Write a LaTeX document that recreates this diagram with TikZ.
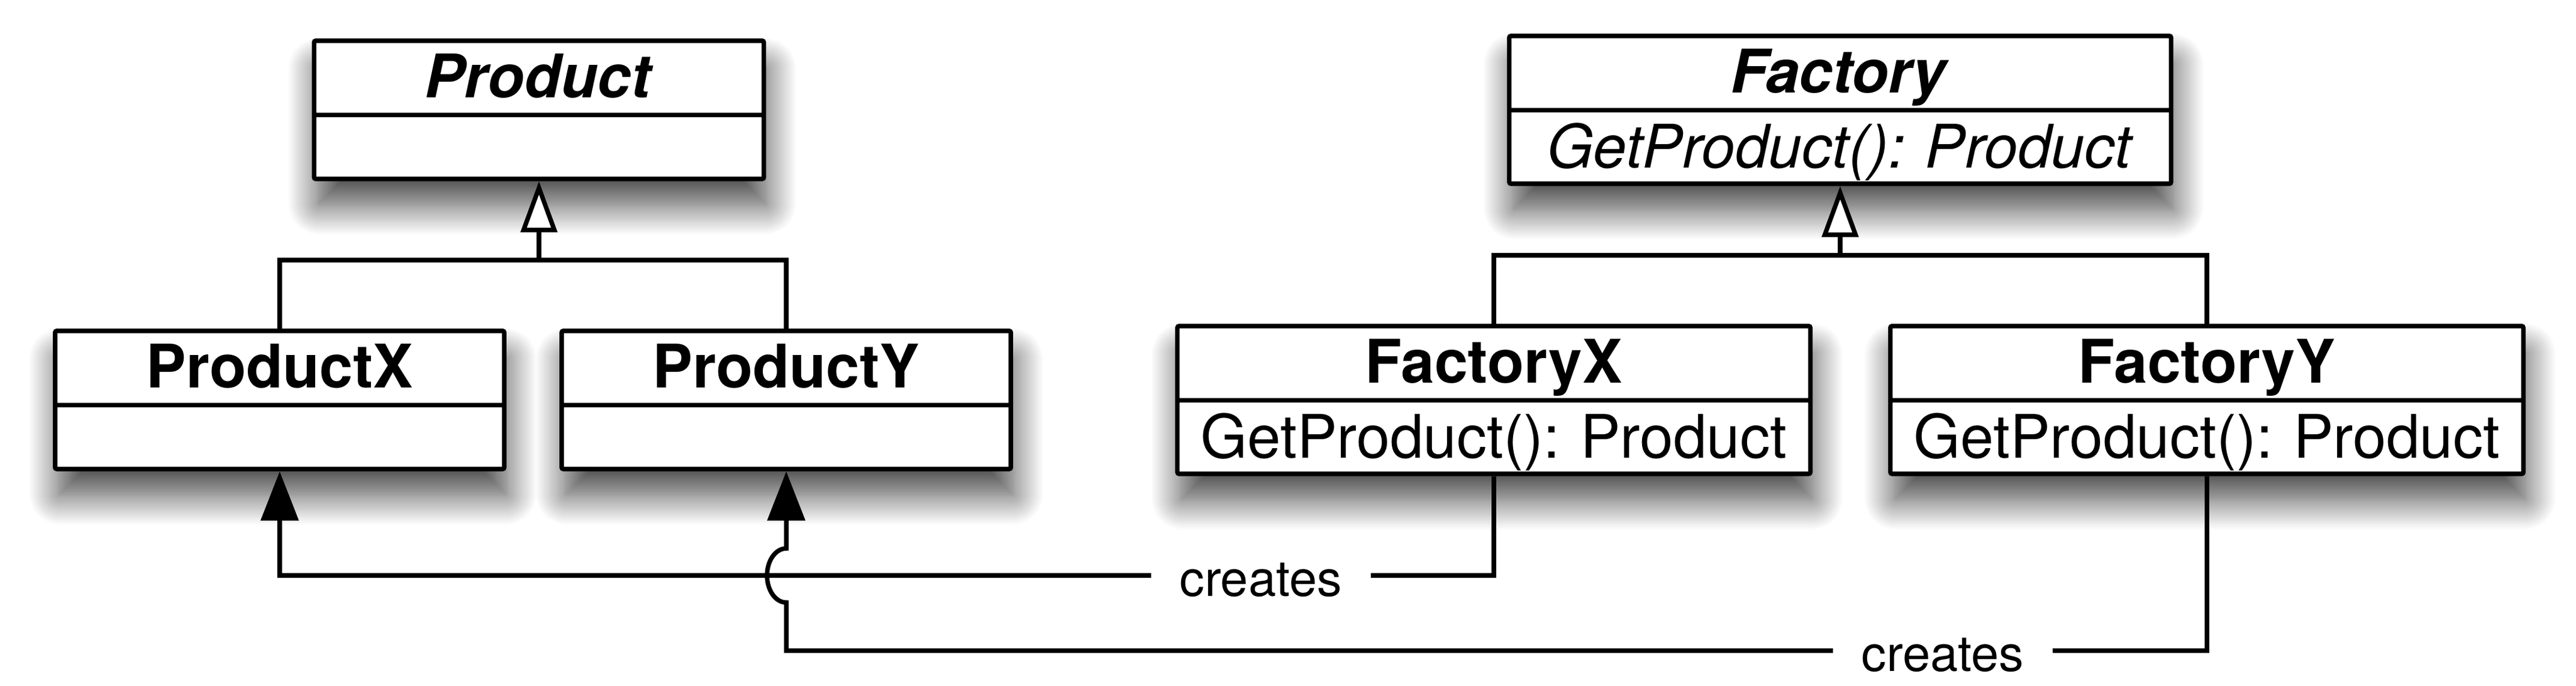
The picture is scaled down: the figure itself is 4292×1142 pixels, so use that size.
\documentclass[tikz,border=0pt]{standalone}
\usepackage{fontspec}
\setmainfont{TeX Gyre Heros}
\usetikzlibrary{arrows.meta,shapes.multipart,shadows.blur}
\frenchspacing

\newcommand{\namestrut}{\rule[-0.25cm]{0pt}{1.16cm}}
\newcommand{\opstrut}{\rule[-0.23cm]{0pt}{1.15cm}}
\newcommand{\emptystrut}{\rule{0pt}{0.99cm}}

\begin{document}
\begin{tikzpicture}[x=0.01cm,y=-0.01cm,line width=0.075cm,
		font=\fontsize{28.45}{34}\selectfont]
		\tikzstyle{umlclass}=[rectangle split,rectangle split parts=2,draw=black,fill=white,
			inner xsep=0pt,inner ysep=0pt,align=center,rounded corners=0.03cm,
			blur shadow={shadow xshift=1.5pt,shadow yshift=-12.5pt,shadow blur radius=14pt,
				shadow opacity=72,shadow blur steps=24}]
		\tikzstyle{gen}=[-{Triangle[length=0.85cm,width=0.6cm,fill=white]}]
		\tikzstyle{assoc}=[-{Triangle[length=0.82cm,width=0.62cm]}]
		\tikzstyle{lbl}=[fill=white,inner xsep=0.48cm,inner ysep=0.02cm,yshift=-0.07cm,
			font=\fontsize{23.6}{28}\selectfont]
		
		\useasboundingbox (0,0) rectangle (4292,1142);
		
		\node[umlclass,text width=7.49cm,anchor=north] (p) at (898,64)
			{\textbf{\textit{Product}}\namestrut \nodepart{two}\emptystrut};
		\node[umlclass,text width=7.48cm,anchor=north] (px) at (466,547)
			{\textbf{ProductX}\namestrut \nodepart{two}\emptystrut};
		\node[umlclass,text width=7.48cm,anchor=north] (py) at (1310,547)
			{\textbf{ProductY}\namestrut \nodepart{two}\emptystrut};
		\node[umlclass,text width=11.02cm,anchor=north] (f) at (3066,56)
			{\textbf{\textit{Factory}}\namestrut \nodepart{two}\textit{GetProduct(): Product}\opstrut};
		\node[umlclass,text width=10.54cm,anchor=north] (fx) at (2489,539)
			{\textbf{FactoryX}\namestrut \nodepart{two}GetProduct(): Product\opstrut};
		\node[umlclass,text width=10.54cm,anchor=north] (fy) at (3677,539)
			{\textbf{FactoryY}\namestrut \nodepart{two}GetProduct(): Product\opstrut};
		
		% inheritance
		\draw (px.north) -- (px.north |- 0,433) -- (py.north |- 0,433) -- (py.north);
		\draw[gen] (p.south |- 0,433) -- (p.south);
		\draw (fx.north) -- (fx.north |- 0,425) -- (fy.north |- 0,425) -- (fy.north);
		\draw[gen] (f.south |- 0,425) -- (f.south);
		
		% creates
		\draw[assoc] (fx.south) -- (fx.south |- 0,958)
			-- node[lbl,pos=0.192] {creates} (px.south |- 0,958) -- (px.south);
		\draw[assoc] (fy.south) -- (fy.south |- 0,1083)
			-- node[lbl,pos=0.186] {creates} (py.south |- 0,1083) -- (py.south |- 0,1003)
			arc[start angle=90,end angle=270,x radius=32,y radius=45] -- (py.south);
\end{tikzpicture}
\end{document}
